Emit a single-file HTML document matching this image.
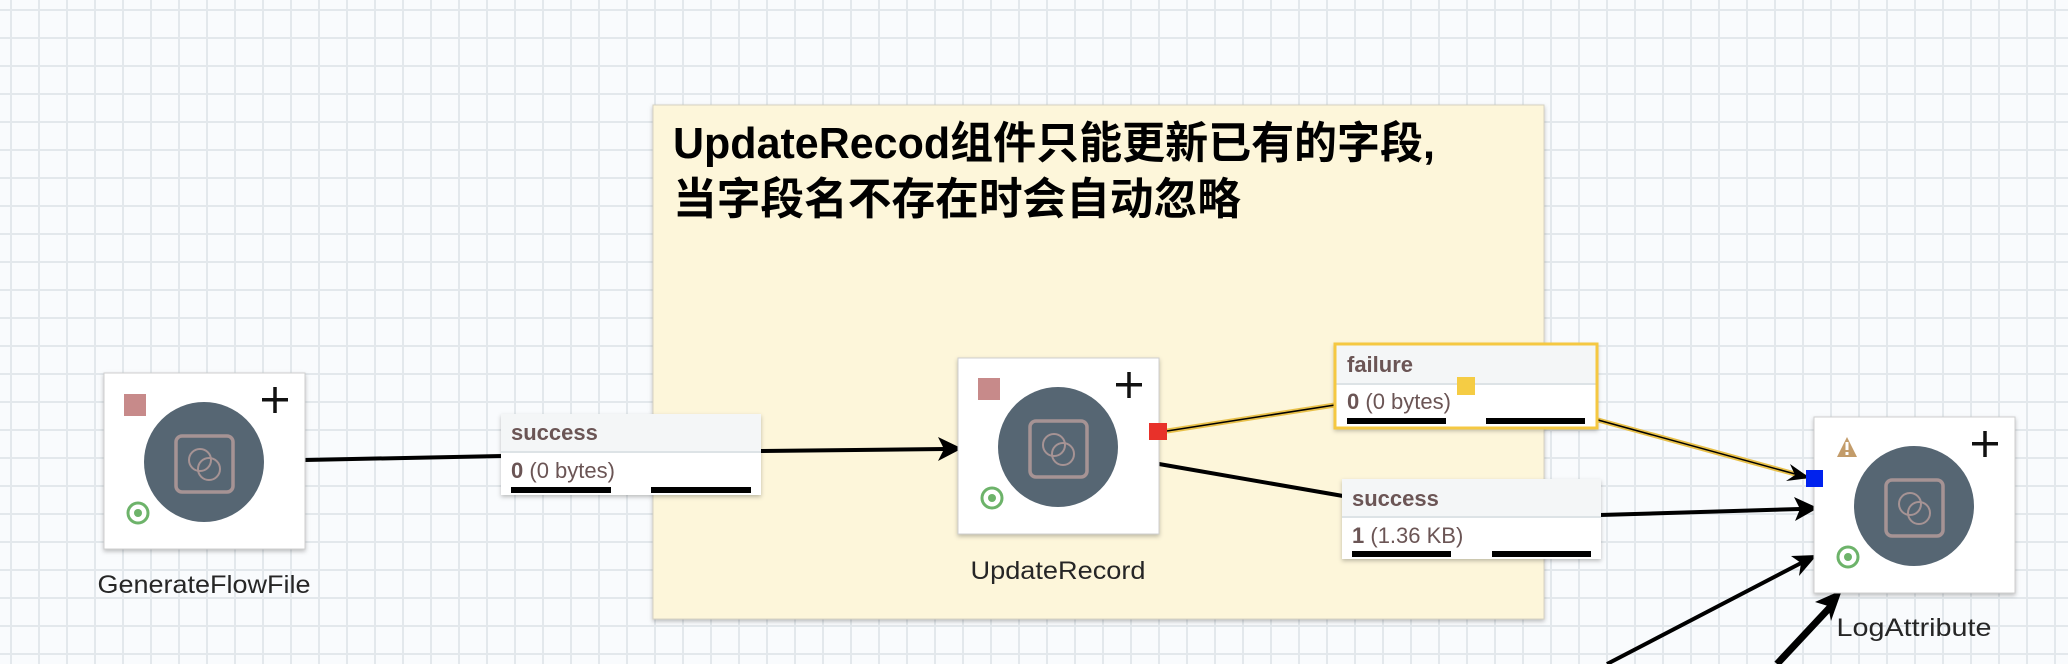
<!DOCTYPE html>
<html><head><meta charset="utf-8"><style>
html,body{margin:0;padding:0;background:#f9fbfd;}
svg{display:block;}
text{font-family:"Liberation Sans","Noto Sans CJK SC",sans-serif;}
</style></head><body>
<svg width="2068" height="664" viewBox="0 0 2068 664" xmlns="http://www.w3.org/2000/svg">
<defs>
<pattern id="grid" x="0" y="0" width="28" height="28" patternUnits="userSpaceOnUse">
<rect width="28" height="28" fill="#f9fbfd"/>
<rect x="10" y="0" width="2" height="28" fill="#e3e8ec"/>
<rect x="0" y="9" width="28" height="2" fill="#e3e8ec"/>
</pattern>
<filter id="sh" x="-10%" y="-10%" width="120%" height="130%"><feDropShadow dx="0" dy="2" stdDeviation="2" flood-color="#000" flood-opacity="0.25"/></filter>
<g id="node">
<rect x="0" y="0" width="201" height="176" fill="#fff" stroke="#cfcfcf" stroke-width="1" filter="url(#sh)"/>
<circle cx="100" cy="89" r="60" fill="#566673"/>
<rect x="72" y="63" width="57" height="56" rx="6" fill="none" stroke="#a69394" stroke-width="3.5"/>
<circle cx="96" cy="87" r="11" fill="none" stroke="#a69394" stroke-width="2"/>
<circle cx="105" cy="96" r="11" fill="none" stroke="#a69394" stroke-width="2"/>
<rect x="158" y="25" width="26" height="3.5" fill="#111"/>
<rect x="169.25" y="14" width="3.5" height="26" fill="#111"/>
<circle cx="34" cy="140" r="10" fill="none" stroke="#6db36a" stroke-width="3"/>
<circle cx="34" cy="140" r="4" fill="#6db36a"/>
</g>
</defs>
<rect width="2068" height="664" fill="url(#grid)"/>

<!-- note -->
<rect x="653" y="105" width="891" height="514" fill="#fdf6da" stroke="#d6d2c2" stroke-width="1" filter="url(#sh)"/>
<text x="673" y="158" font-size="44" font-weight="bold" fill="#000" textLength="762" lengthAdjust="spacingAndGlyphs">UpdateRecod组件只能更新已有的字段,</text>
<text x="673" y="214" font-size="44" font-weight="bold" fill="#000" textLength="568" lengthAdjust="spacingAndGlyphs">当字段名不存在时会自动忽略</text>

<!-- connectors -->
<line x1="305" y1="460" x2="502" y2="456" stroke="#000" stroke-width="4"/>
<line x1="760" y1="451" x2="945" y2="449" stroke="#000" stroke-width="4"/>
<polygon points="962,448.5 938,437 944,449 938,461" fill="#000"/>

<line x1="1167" y1="431" x2="1335" y2="405" stroke="#e8c04a" stroke-width="5"/>
<line x1="1167" y1="431" x2="1335" y2="405" stroke="#000" stroke-width="1.5"/>
<line x1="1598" y1="420" x2="1806" y2="477" stroke="#e8c04a" stroke-width="5"/>
<line x1="1598" y1="420" x2="1806" y2="477" stroke="#000" stroke-width="1.5"/>
<polygon points="1810,478 1790,464 1795,475 1786,481" fill="#000"/>

<line x1="1159" y1="464" x2="1343" y2="496" stroke="#000" stroke-width="4"/>
<line x1="1600" y1="515" x2="1800" y2="509" stroke="#000" stroke-width="4"/>
<polygon points="1818,508 1794,497 1800,509 1795,521" fill="#000"/>

<line x1="1607" y1="664" x2="1805" y2="561" stroke="#000" stroke-width="4"/>
<polygon points="1817,555 1791,556 1801,563 1799,576" fill="#000"/>
<line x1="1777" y1="664" x2="1834" y2="603" stroke="#000" stroke-width="7"/>
<polygon points="1842,590 1815,602 1828,606 1831,621" fill="#000"/>

<!-- nodes -->
<use href="#node" x="104" y="373"/>
<rect x="124" y="394" width="22" height="22" fill="#c78a8a"/>
<text x="204" y="593" font-size="25" fill="#262626" text-anchor="middle" textLength="213" lengthAdjust="spacingAndGlyphs">GenerateFlowFile</text>

<use href="#node" x="958" y="358"/>
<rect x="978" y="378" width="22" height="22" fill="#c78a8a"/>
<rect x="1149" y="423" width="18" height="17" fill="#e8312a"/>
<text x="1058" y="579" font-size="25" fill="#262626" text-anchor="middle" textLength="175" lengthAdjust="spacingAndGlyphs">UpdateRecord</text>

<use href="#node" x="1814" y="417"/>
<polygon points="1847,437 1837,457 1857,457" fill="#c39c6a"/>
<rect x="1845.5" y="442" width="3" height="8" fill="#fff"/>
<rect x="1845.5" y="452" width="3" height="3" fill="#fff"/>
<rect x="1806" y="470" width="17" height="17" fill="#0022ee"/>
<text x="1914" y="636" font-size="25" fill="#262626" text-anchor="middle" textLength="155" lengthAdjust="spacingAndGlyphs">LogAttribute</text>

<!-- label 1 -->
<g filter="url(#sh)">
<rect x="501" y="414" width="260" height="81" fill="#fff"/>
</g>
<rect x="501" y="414" width="260" height="37" fill="#f4f6f7"/>
<rect x="501" y="451" width="260" height="2" fill="#dde3e6"/>
<text x="511" y="440" font-size="22" font-weight="bold" fill="#6b5555">success</text>
<text x="511" y="478" font-size="22" fill="#6b5555"><tspan font-weight="bold">0</tspan> (0 bytes)</text>
<rect x="511" y="487" width="100" height="6" fill="#000"/>
<rect x="651" y="487" width="100" height="6" fill="#000"/>

<!-- label failure -->
<g filter="url(#sh)">
<rect x="1334" y="343" width="264" height="86" fill="#fff"/>
</g>
<rect x="1334" y="343" width="264" height="40" fill="#f4f6f7"/>
<rect x="1334" y="383" width="264" height="2" fill="#dde3e6"/>
<rect x="1335" y="344" width="262" height="84" fill="none" stroke="#f5c842" stroke-width="3"/>
<text x="1347" y="372" font-size="22" font-weight="bold" fill="#6b5555">failure</text>
<text x="1347" y="409" font-size="22" fill="#6b5555"><tspan font-weight="bold">0</tspan> (0 bytes)</text>
<rect x="1457" y="377" width="18" height="18" fill="#f5cc44"/>
<rect x="1347" y="418" width="99" height="6" fill="#000"/>
<rect x="1486" y="418" width="99" height="6" fill="#000"/>

<!-- label success 2 -->
<g filter="url(#sh)">
<rect x="1342" y="479" width="259" height="80" fill="#fff"/>
</g>
<rect x="1342" y="479" width="259" height="37" fill="#f4f6f7"/>
<rect x="1342" y="516" width="259" height="2" fill="#dde3e6"/>
<text x="1352" y="506" font-size="22" font-weight="bold" fill="#6b5555">success</text>
<text x="1352" y="543" font-size="22" fill="#6b5555"><tspan font-weight="bold">1</tspan> (1.36 KB)</text>
<rect x="1352" y="551" width="99" height="6" fill="#000"/>
<rect x="1492" y="551" width="99" height="6" fill="#000"/>
</svg>
</body></html>
